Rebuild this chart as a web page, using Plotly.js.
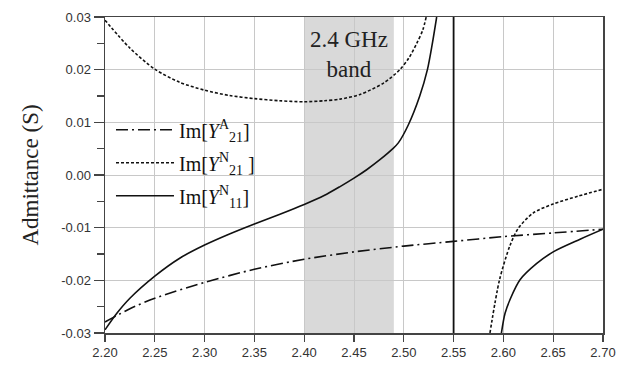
<!DOCTYPE html>
<html>
<head>
<meta charset="utf-8">
<script src="https://cdn.plot.ly/plotly-3.0.1.min.js"></script>
<style>html,body{margin:0;padding:0;background:#fff;}#chart{width:632px;height:367px;}</style>
</head>
<body>
<div id="chart"></div>
<script>
// Im[Y21^A] (dash-dot)
const freqA = [2.20, 2.225, 2.25, 2.30, 2.35, 2.40, 2.45, 2.50, 2.55, 2.60, 2.65, 2.70];
const imY21A = [-0.0279, -0.0254, -0.0234, -0.0204, -0.0179, -0.0160, -0.0146, -0.0135, -0.0126, -0.0117, -0.0110, -0.0103];

// Im[Y21^N] (dotted) left branch and right branch
const freqN21L = [2.20, 2.225, 2.25, 2.275, 2.30, 2.325, 2.35, 2.375, 2.40, 2.42, 2.436, 2.456, 2.48, 2.496, 2.505, 2.513, 2.519, 2.5225];
const imY21NL = [0.0294, 0.0241, 0.0201, 0.0176, 0.0161, 0.0151, 0.0145, 0.0141, 0.0139, 0.0141, 0.0144, 0.0153, 0.0175, 0.0200, 0.0222, 0.0250, 0.0275, 0.0300];
const freqN21R = [2.5865, 2.5961, 2.6066, 2.615, 2.630, 2.65, 2.6754, 2.70];
const imY21NR = [-0.0300, -0.0199, -0.0134, -0.0101, -0.0072, -0.0055, -0.0040, -0.0027];

// Im[Y11^N] (solid) left branch and right branch
const freqN11L = [2.20, 2.2117, 2.225, 2.25, 2.275, 2.30, 2.325, 2.35, 2.375, 2.40, 2.42, 2.436, 2.45, 2.4627, 2.476, 2.489, 2.4945, 2.5045, 2.516, 2.5237, 2.5285, 2.533];
const imY11NL = [-0.0294, -0.0263, -0.0234, -0.0192, -0.0158, -0.0133, -0.0112, -0.0093, -0.0075, -0.0056, -0.0039, -0.0022, -0.0006, 0.0010, 0.0029, 0.0050, 0.0061, 0.0095, 0.0150, 0.0200, 0.0248, 0.0300];
const freqN11R = [2.598, 2.6016, 2.607, 2.6167, 2.6335, 2.65, 2.677, 2.70];
const imY11NR = [-0.0300, -0.0263, -0.0235, -0.0199, -0.0168, -0.0146, -0.0122, -0.0103];

// vertical asymptote line
const poleX = [2.55, 2.55];
const poleY = [-0.03, 0.03];

const bandX = [2.40, 2.49];
const xTicks = [2.20, 2.25, 2.30, 2.35, 2.40, 2.45, 2.50, 2.55, 2.60, 2.65, 2.70];
const yTicks = [-0.03, -0.02, -0.01, 0.00, 0.01, 0.02, 0.03];

const serif = 'Liberation Serif, Times New Roman, serif';
const sans = 'Liberation Sans, Arial, sans-serif';
const SM = 0.8;

const traces = [
  {x: freqA, y: imY21A, mode: 'lines', name: 'Im[<i>Y</i><sup>A</sup><sub>21</sub>]',
   line: {color: '#111', width: 1.6, dash: '12px,4px,2px,4px', shape: 'spline', smoothing: SM}, legendgroup: 'a'},
  {x: freqN21L, y: imY21NL, mode: 'lines', name: 'Im[<i>Y</i><sup>N</sup><sub>21</sub> ]',
   line: {color: '#111', width: 1.6, dash: '3px,2px', shape: 'spline', smoothing: SM}, legendgroup: 'b'},
  {x: freqN21R, y: imY21NR, mode: 'lines', showlegend: false,
   line: {color: '#111', width: 1.6, dash: '3px,2px', shape: 'spline', smoothing: SM}, legendgroup: 'b'},
  {x: freqN11L, y: imY11NL, mode: 'lines', name: 'Im[<i>Y</i><sup>N</sup><sub>11</sub>]',
   line: {color: '#111', width: 1.6, shape: 'spline', smoothing: SM}, legendgroup: 'c'},
  {x: freqN11R, y: imY11NR, mode: 'lines', showlegend: false,
   line: {color: '#111', width: 1.6, shape: 'spline', smoothing: SM}, legendgroup: 'c'},
  {x: poleX, y: poleY, mode: 'lines', showlegend: false,
   line: {color: '#111', width: 1.8}}
];

const layout = {
  width: 632, height: 367,
  margin: {l: 105, r: 29, t: 17, b: 34},
  paper_bgcolor: '#fff', plot_bgcolor: '#fff',
  showlegend: true,
  legend: {x: 0.012, y: 0.705, xanchor: 'left', yanchor: 'top', bgcolor: 'rgba(0,0,0,0)',
           font: {family: serif, size: 20, color: '#111'}, tracegroupgap: 4, traceorder: 'grouped',
           itemwidth: 58},
  xaxis: {range: [2.20, 2.70], tickvals: xTicks, ticktext: xTicks.map(v => v.toFixed(2)),
          showgrid: true, gridcolor: '#c8c8c8', gridwidth: 1,
          showline: true, linecolor: '#444', linewidth: 1.5, mirror: true,
          ticks: 'outside', ticklen: 7, tickcolor: '#444', tickwidth: 1.2,
          tickfont: {family: sans, size: 13, color: '#333'}, zeroline: false},
  yaxis: {range: [-0.03, 0.03], tickvals: yTicks, ticktext: yTicks.map(v => v.toFixed(2)),
          showgrid: true, gridcolor: '#c8c8c8', gridwidth: 1,
          showline: true, linecolor: '#444', linewidth: 1.5, mirror: true,
          ticks: 'outside', ticklen: 10, tickcolor: '#444', tickwidth: 1.2,
          minor: {dtick: 0.005, tick0: 0, ticks: 'outside', ticklen: 7, tickcolor: '#444', showgrid: false},
          tickfont: {family: sans, size: 13, color: '#333'}, zeroline: false,
          title: {text: 'Admittance (S)', font: {family: serif, size: 23, color: '#222'}, standoff: 16}},
  shapes: [{type: 'rect', xref: 'x', yref: 'paper', x0: bandX[0], x1: bandX[1], y0: 0, y1: 1,
            fillcolor: '#d9d9d9', line: {width: 0}, layer: 'between'}],
  annotations: [{x: (bandX[0] + bandX[1]) / 2, y: 0.0228, xref: 'x', yref: 'y', showarrow: false,
                 text: '2.4 GHz<br>band', font: {family: serif, size: 23, color: '#222'}}]
};

Plotly.newPlot('chart', traces, layout, {displayModeBar: false, staticPlot: true});
</script>
</body>
</html>
